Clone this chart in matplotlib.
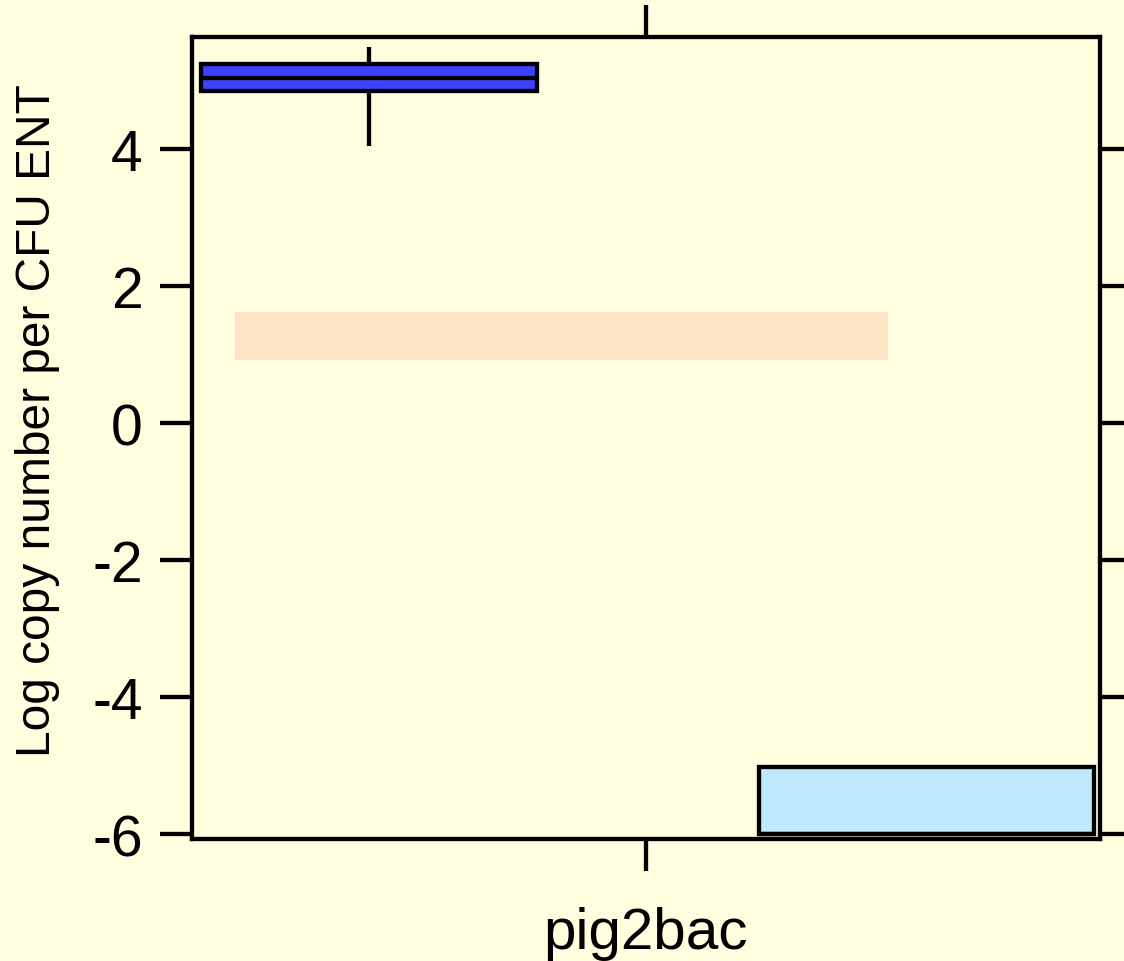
import matplotlib
matplotlib.use('Agg')
import matplotlib.pyplot as plt

plt.rcParams['font.family'] = ['Liberation Sans', 'DejaVu Sans']
plt.rcParams['axes.unicode_minus'] = False

# ---- data ----
categories = ['pig2bac']
y_label = 'Log copy number per CFU ENT'
y_ticks = [-6, -4, -2, 0, 2, 4]

# group 1 (dark blue box)
box1_stats = dict(q1=4.85, med=5.04, q3=5.24, whislo=4.05, whishi=5.50)
# group 2 (light blue box)
box2_stats = dict(q1=-6.0, med=-6.0, q3=-5.02, whislo=-6.0, whishi=-5.02)
# shaded reference band
band_low = 0.93
band_high = 1.63

# ---- styling ----
BG = '#FFFFE0'
LW = 3.1

fig = plt.figure(figsize=(11.24, 9.62), dpi=100, facecolor=BG)
ax = fig.add_axes([0.17082, 0.12682, 0.80783, 0.83368])
ax.set_facecolor(BG)

xc = 1.0
ax.bar(xc - 0.112, band_high - band_low, bottom=band_low, width=0.863,
       color='#FFE4C8', linewidth=0, zorder=1)

def draw_box(stats, pos, color):
    s = dict(stats)
    s['fliers'] = []
    ax.bxp([s], positions=[pos], widths=[0.443], patch_artist=True,
           showfliers=False, showcaps=False,
           boxprops=dict(facecolor=color, edgecolor='black', linewidth=LW),
           medianprops=dict(color='black', linewidth=LW, solid_capstyle='butt'),
           whiskerprops=dict(color='black', linewidth=LW, solid_capstyle='butt'),
           manage_ticks=False, zorder=3)

draw_box(box1_stats, xc - 0.366, '#4040FF')
draw_box(box2_stats, xc + 0.371, '#C0E8FF')

ax.set_xlim(0.4, 1.6)
ax.set_ylim(-6.07, 5.64)

ax.set_xticks([xc])
ax.set_xticklabels(categories, fontsize=42)
ax.set_yticks(y_ticks)
ax.set_yticklabels([str(t) for t in y_ticks], fontsize=41)

ax.tick_params(axis='both', direction='out', length=23, width=LW, color='black')
ax.tick_params(axis='y', left=True, right=True, labelleft=True, labelright=False, pad=12.5)
ax.tick_params(axis='x', bottom=True, top=True, labelbottom=True, labeltop=False, pad=25)

for sp in ax.spines.values():
    sp.set_linewidth(LW)
    sp.set_color('black')

ax.set_ylabel(y_label, fontsize=34.5)
ax.yaxis.set_label_coords(-0.1454, 0.5224)

fig.savefig('out.png', dpi=100, facecolor=BG)
